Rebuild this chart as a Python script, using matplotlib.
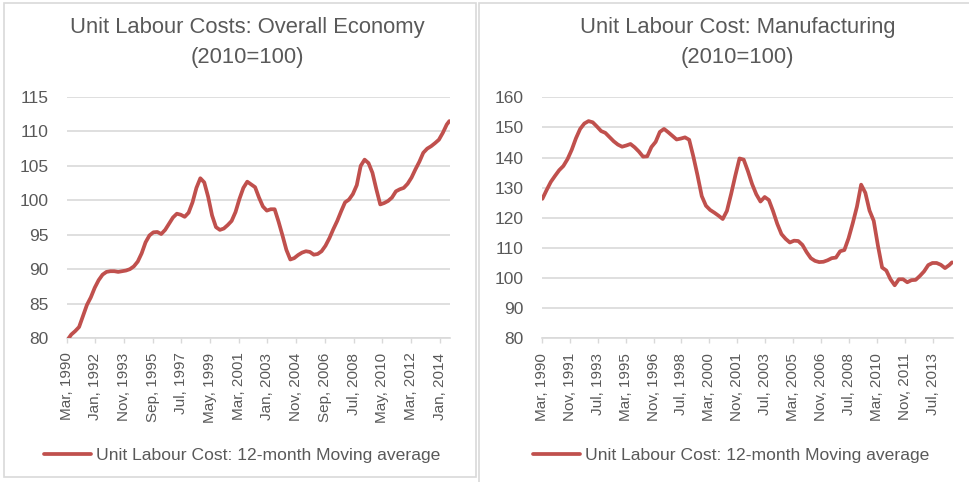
import matplotlib
matplotlib.use("Agg")
import matplotlib.pyplot as plt
from matplotlib.patches import Rectangle
import numpy as np

plt.rcParams["font.family"] = ["Liberation Sans", "DejaVu Sans"]

# Month offsets from March 1990 (quarterly readings plus the final month)
month_offsets = list(range(0, 292, 3)) + [293]
n_months = 294

overall_economy = [
    79.7, 80.5, 81.0, 81.6, 83.2, 84.8, 85.9, 87.3, 88.4, 89.2,
    89.6, 89.7, 89.7, 89.6, 89.7, 89.8, 90.0, 90.4, 91.1, 92.3,
    93.9, 94.9, 95.35, 95.4, 95.1, 95.7, 96.6, 97.5, 98.05, 97.9,
    97.6, 98.2, 99.7, 101.8, 103.2, 102.6, 100.5, 97.8, 96.1, 95.7,
    95.9, 96.4, 97.0, 98.3, 100.2, 101.8, 102.7, 102.3, 101.9, 100.4,
    99.1, 98.5, 98.7, 98.7, 96.9, 94.9, 92.8, 91.4, 91.6, 92.05,
    92.4, 92.6, 92.5, 92.1, 92.2, 92.6, 93.4, 94.5, 95.8, 97.0,
    98.4, 99.7, 100.1, 100.9, 102.2, 105.0, 105.9, 105.4, 104.0, 101.6,
    99.4, 99.6, 99.9, 100.4, 101.3, 101.6, 101.8, 102.4, 103.3, 104.5,
    105.6, 106.9, 107.5, 107.85, 108.3, 108.8, 109.8, 111.0, 111.5,
]

manufacturing = [
    126.3, 129.2, 131.9, 133.9, 135.8, 137.2, 139.5, 142.6, 146.4, 149.5,
    151.3, 152.1, 151.7, 150.3, 148.8, 148.2, 146.8, 145.4, 144.3, 143.6,
    144.0, 144.5, 143.4, 142.0, 140.3, 140.4, 143.5, 145.2, 148.5, 149.5,
    148.4, 147.2, 146.0, 146.3, 146.7, 145.9, 140.3, 134.0, 127.2, 124.0,
    122.6, 121.7, 120.7, 119.6, 122.3, 127.9, 134.0, 139.7, 139.3, 135.5,
    131.2, 127.8, 125.4, 126.9, 125.9, 122.2, 118.0, 114.6, 113.0, 111.8,
    112.4, 112.3, 111.0, 108.6, 106.6, 105.7, 105.3, 105.4, 105.9, 106.6,
    106.8, 108.9, 109.3, 113.2, 118.2, 123.7, 131.0, 128.3, 122.4, 119.0,
    110.8, 103.5, 102.5, 99.6, 97.6, 99.6, 99.6, 98.6, 99.3, 99.4,
    100.7, 102.2, 104.3, 105.0, 105.0, 104.4, 103.3, 104.3, 105.2,
]

overall_labels = ["Mar, 1990", "Jan, 1992", "Nov, 1993", "Sep, 1995", "Jul, 1997",
                  "May, 1999", "Mar, 2001", "Jan, 2003", "Nov, 2004", "Sep, 2006",
                  "Jul, 2008", "May, 2010", "Mar, 2012", "Jan, 2014"]
manufacturing_labels = ["Mar, 1990", "Nov, 1991", "Jul, 1993", "Mar, 1995", "Nov, 1996",
                        "Jul, 1998", "Mar, 2000", "Nov, 2001", "Jul, 2003", "Mar, 2005",
                        "Nov, 2006", "Jul, 2008", "Mar, 2010", "Nov, 2011", "Jul, 2013"]

overall_yticks = [80, 85, 90, 95, 100, 105, 110, 115]
manufacturing_yticks = [80, 90, 100, 110, 120, 130, 140, 150, 160]

titles = [("Unit Labour Costs: Overall Economy", "(2010=100)"),
          ("Unit Labour Cost: Manufacturing", "(2010=100)")]
series_name = "Unit Labour Cost: 12-month Moving average"

LINE = "#c0504d"
TEXT = "#595959"
GRID = "#d9d9d9"

W, H = 970, 482
fig = plt.figure(figsize=(W / 100, H / 100), dpi=100)


def fx(px):
    return px / W


def fy(py):
    return 1 - py / H


# chart-area frames
for x0, y0, x1, y1 in [(4, 3, 476, 477), (479, 3, 972, 484)]:
    fig.patches.append(Rectangle((fx(x0), fy(y1)), fx(x1 - x0), (y1 - y0) / H,
                                 transform=fig.transFigure, fill=False,
                                 edgecolor=GRID, linewidth=1.2))

panels = [
    dict(rect=(66.7, 97.0, 450.0, 338.0), values=overall_economy,
         labels=overall_labels, step=22, yticks=overall_yticks,
         title=titles[0], title_x=247.5, legend_x=242),
    dict(rect=(541.7, 97.3, 952.7, 338.3), values=manufacturing,
         labels=manufacturing_labels, step=20, yticks=manufacturing_yticks,
         title=titles[1], title_x=737.5, legend_x=731),
]

for p in panels:
    x0, y0, x1, y1 = p["rect"]
    ax = fig.add_axes([fx(x0), fy(y1), fx(x1 - x0), (y1 - y0) / H])
    line, = ax.plot(month_offsets, p["values"], color=LINE, linewidth=2.7,
                    solid_capstyle="round", solid_joinstyle="round",
                    label=series_name, zorder=3)
    yt = p["yticks"]
    ax.set_ylim(yt[0], yt[-1])
    ax.set_yticks(yt)
    ax.set_xlim(-0.5, n_months - 0.5)
    ticks = [k * p["step"] - 0.5 for k in range(len(p["labels"]))]
    ax.set_xticks(ticks)
    ax.set_xticklabels(p["labels"], rotation=90)
    ax.grid(axis="y", color=GRID, linewidth=1.2)
    ax.set_axisbelow(True)
    for s in ["top", "right", "left"]:
        ax.spines[s].set_visible(False)
    ax.spines["bottom"].set_color(GRID)
    ax.spines["bottom"].set_linewidth(1.2)
    ax.tick_params(axis="y", length=0, pad=13, labelsize=12.5, labelcolor=TEXT)
    ax.tick_params(axis="x", length=3.5, width=1, color=GRID, pad=7,
                   labelsize=11, labelcolor=TEXT)
    for line_text, ty in zip(p["title"], (28, 58)):
        fig.text(fx(p["title_x"]), fy(ty), line_text, ha="center", va="center",
                 fontsize=15.8, color=TEXT)
    ax.legend(handles=[line], loc="center", bbox_to_anchor=(fx(p["legend_x"]), fy(455)),
              bbox_transform=fig.transFigure, frameon=False, fontsize=12.6,
              labelcolor=TEXT, handlelength=2.7, handletextpad=0.25)

fig.savefig("out.png", dpi=100)
